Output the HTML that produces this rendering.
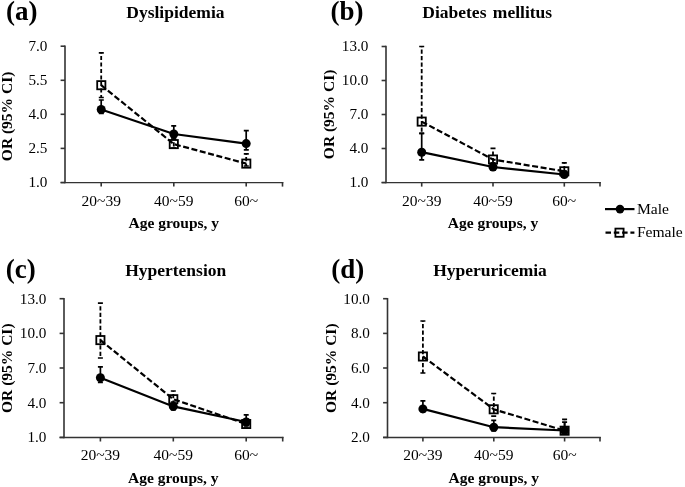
<!DOCTYPE html><html><head><meta charset="utf-8"><style>html,body{margin:0;padding:0;background:#fff;}svg{display:block;filter:grayscale(1)}text{font-family:"Liberation Serif", serif;fill:#000}</style></head><body>
<svg width="685" height="487" viewBox="0 0 685 487">
<rect width="100%" height="100%" fill="#fff"/>
<text x="5.9" y="19.8" font-size="27" font-weight="bold">(a)</text>
<text x="175.4" y="18.0" font-size="17.5" font-weight="bold" text-anchor="middle">Dyslipidemia</text>
<text transform="translate(6.4 116.4) rotate(-90)" font-size="15.5" font-weight="bold" text-anchor="middle" dominant-baseline="central">OR (95% CI)</text>
<g stroke="#333" stroke-width="1.6" fill="none" stroke-linecap="butt">
<path d="M65.0 45.5 V183.3"/>
<path d="M60.6 182.65 H283.3" stroke-width="1.4"/>
<path d="M60.6 182.5 H65.0"/>
<path d="M60.6 148.4 H65.0"/>
<path d="M60.6 114.3 H65.0"/>
<path d="M60.6 80.3 H65.0"/>
<path d="M60.6 46.2 H65.0"/>
<path d="M101.2 182.5 V186.6"/>
<path d="M173.8 182.5 V186.6"/>
<path d="M246.2 182.5 V186.6"/>
<path d="M282.5 182.0 V186.6"/>
</g>
<text x="47.4" y="187.4" font-size="15.2" text-anchor="end">1.0</text>
<text x="47.4" y="153.3" font-size="15.2" text-anchor="end">2.5</text>
<text x="47.4" y="119.2" font-size="15.2" text-anchor="end">4.0</text>
<text x="47.4" y="85.2" font-size="15.2" text-anchor="end">5.5</text>
<text x="47.4" y="51.1" font-size="15.2" text-anchor="end">7.0</text>
<text x="101.2" y="205.5" font-size="15.5" text-anchor="middle">20~39</text>
<text x="173.8" y="205.5" font-size="15.5" text-anchor="middle">40~59</text>
<text x="246.2" y="205.5" font-size="15.5" text-anchor="middle">60~</text>
<text x="173.8" y="227.7" font-size="15.5" font-weight="bold" text-anchor="middle">Age groups, y</text>
<polyline points="101.2,85.2 173.8,144.1 246.2,163.6" fill="none" stroke="#000" stroke-width="2.2" stroke-dasharray="6 2.6"/>
<polyline points="101.2,109.5 173.8,134.0 246.2,143.6" fill="none" stroke="#000" stroke-width="2.2"/>
<path d="M101.2 52.8 V97.5" stroke="#000" stroke-width="1.8" stroke-dasharray="4.2 2.3" stroke-dashoffset="-3.1" fill="none"/>
<path d="M98.8 52.8 h5 M98.8 97.5 h5" stroke="#000" stroke-width="1.7" fill="none"/>
<path d="M101.2 100.0 V113.5 M98.8 100.0 h5 M98.8 113.5 h5" stroke="#000" stroke-width="1.7" fill="none"/>
<path d="M173.8 139.2 V148.0" stroke="#000" stroke-width="1.8" stroke-dasharray="4.2 2.3" stroke-dashoffset="-3.1" fill="none"/>
<path d="M171.2 139.2 h5 M171.2 148.0 h5" stroke="#000" stroke-width="1.7" fill="none"/>
<path d="M173.8 125.9 V139.2 M171.2 125.9 h5 M171.2 139.2 h5" stroke="#000" stroke-width="1.7" fill="none"/>
<path d="M246.2 153.9 V166.0" stroke="#000" stroke-width="1.8" stroke-dasharray="4.2 2.3" stroke-dashoffset="-3.1" fill="none"/>
<path d="M243.8 153.9 h5 M243.8 166.0 h5" stroke="#000" stroke-width="1.7" fill="none"/>
<path d="M246.2 130.6 V149.8 M243.8 130.6 h5 M243.8 149.8 h5" stroke="#000" stroke-width="1.7" fill="none"/>
<circle cx="101.2" cy="109.5" r="4.5" fill="#000"/>
<rect x="97.2" y="81.1" width="8.2" height="8.2" fill="none" stroke="#000" stroke-width="1.8"/>
<circle cx="173.8" cy="134.0" r="4.5" fill="#000"/>
<rect x="169.7" y="140.0" width="8.2" height="8.2" fill="none" stroke="#000" stroke-width="1.8"/>
<circle cx="246.2" cy="143.6" r="4.5" fill="#000"/>
<rect x="242.2" y="159.5" width="8.2" height="8.2" fill="none" stroke="#000" stroke-width="1.8"/>
<text x="330.4" y="19.8" font-size="27" font-weight="bold">(b)</text>
<text x="422.3" y="18.2" font-size="17.5" font-weight="bold" word-spacing="2">Diabetes mellitus</text>
<text transform="translate(328.9 114.4) rotate(-90)" font-size="15.5" font-weight="bold" text-anchor="middle" dominant-baseline="central">OR (95% CI)</text>
<g stroke="#333" stroke-width="1.6" fill="none" stroke-linecap="butt">
<path d="M386.0 45.8 V183.3"/>
<path d="M381.6 182.65 H600.8" stroke-width="1.4"/>
<path d="M381.6 182.5 H386.0"/>
<path d="M381.6 148.5 H386.0"/>
<path d="M381.6 114.5 H386.0"/>
<path d="M381.6 80.5 H386.0"/>
<path d="M381.6 46.5 H386.0"/>
<path d="M421.7 182.5 V186.6"/>
<path d="M493.0 182.5 V186.6"/>
<path d="M564.3 182.5 V186.6"/>
<path d="M600.0 182.0 V186.6"/>
</g>
<text x="368.4" y="187.4" font-size="15.2" text-anchor="end">1.0</text>
<text x="368.4" y="153.4" font-size="15.2" text-anchor="end">4.0</text>
<text x="368.4" y="119.4" font-size="15.2" text-anchor="end">7.0</text>
<text x="368.4" y="85.4" font-size="15.2" text-anchor="end">10.0</text>
<text x="368.4" y="51.4" font-size="15.2" text-anchor="end">13.0</text>
<text x="421.7" y="205.5" font-size="15.5" text-anchor="middle">20~39</text>
<text x="493.0" y="205.5" font-size="15.5" text-anchor="middle">40~59</text>
<text x="564.3" y="205.5" font-size="15.5" text-anchor="middle">60~</text>
<text x="493.0" y="227.7" font-size="15.5" font-weight="bold" text-anchor="middle">Age groups, y</text>
<polyline points="421.7,121.6 493.0,159.5 564.3,171.3" fill="none" stroke="#000" stroke-width="2.2" stroke-dasharray="6 2.6"/>
<polyline points="421.7,152.2 493.0,167.0 564.3,174.5" fill="none" stroke="#000" stroke-width="2.2"/>
<path d="M421.7 46.5 V133.4" stroke="#000" stroke-width="1.8" stroke-dasharray="4.2 2.3" stroke-dashoffset="-3.1" fill="none"/>
<path d="M419.2 46.5 h5 M419.2 133.4 h5" stroke="#000" stroke-width="1.7" fill="none"/>
<path d="M421.7 133.4 V159.8 M419.2 133.4 h5 M419.2 159.8 h5" stroke="#000" stroke-width="1.7" fill="none"/>
<path d="M493.0 148.3 V163.0" stroke="#000" stroke-width="1.8" stroke-dasharray="4.2 2.3" stroke-dashoffset="-3.1" fill="none"/>
<path d="M490.5 148.3 h5 M490.5 163.0 h5" stroke="#000" stroke-width="1.7" fill="none"/>
<path d="M493.0 163.0 V170.0 M490.5 163.0 h5 M490.5 170.0 h5" stroke="#000" stroke-width="1.7" fill="none"/>
<path d="M564.3 162.9 V174.0" stroke="#000" stroke-width="1.8" stroke-dasharray="4.2 2.3" stroke-dashoffset="-3.1" fill="none"/>
<path d="M561.8 162.9 h5 M561.8 174.0 h5" stroke="#000" stroke-width="1.7" fill="none"/>
<path d="M564.3 171.0 V177.0 M561.8 171.0 h5 M561.8 177.0 h5" stroke="#000" stroke-width="1.7" fill="none"/>
<circle cx="421.7" cy="152.2" r="4.5" fill="#000"/>
<rect x="417.6" y="117.5" width="8.2" height="8.2" fill="none" stroke="#000" stroke-width="1.8"/>
<circle cx="493.0" cy="167.0" r="4.5" fill="#000"/>
<rect x="488.9" y="155.4" width="8.2" height="8.2" fill="none" stroke="#000" stroke-width="1.8"/>
<circle cx="564.3" cy="174.5" r="4.5" fill="#000"/>
<rect x="560.2" y="167.2" width="8.2" height="8.2" fill="none" stroke="#000" stroke-width="1.8"/>
<text x="5.8" y="277.5" font-size="27" font-weight="bold">(c)</text>
<text x="175.7" y="275.5" font-size="17.5" font-weight="bold" text-anchor="middle">Hypertension</text>
<text transform="translate(6.3 368.2) rotate(-90)" font-size="15.5" font-weight="bold" text-anchor="middle" dominant-baseline="central">OR (95% CI)</text>
<g stroke="#333" stroke-width="1.6" fill="none" stroke-linecap="butt">
<path d="M64.0 298.0 V438.2"/>
<path d="M59.6 437.55 H283.5" stroke-width="1.4"/>
<path d="M59.6 437.4 H64.0"/>
<path d="M59.6 402.7 H64.0"/>
<path d="M59.6 368.0 H64.0"/>
<path d="M59.6 333.4 H64.0"/>
<path d="M59.6 298.7 H64.0"/>
<path d="M100.4 437.4 V441.5"/>
<path d="M173.3 437.4 V441.5"/>
<path d="M246.2 437.4 V441.5"/>
<path d="M282.7 436.9 V441.5"/>
</g>
<text x="46.4" y="442.3" font-size="15.2" text-anchor="end">1.0</text>
<text x="46.4" y="407.6" font-size="15.2" text-anchor="end">4.0</text>
<text x="46.4" y="372.9" font-size="15.2" text-anchor="end">7.0</text>
<text x="46.4" y="338.3" font-size="15.2" text-anchor="end">10.0</text>
<text x="46.4" y="303.6" font-size="15.2" text-anchor="end">13.0</text>
<text x="100.4" y="460.4" font-size="15.5" text-anchor="middle">20~39</text>
<text x="173.3" y="460.4" font-size="15.5" text-anchor="middle">40~59</text>
<text x="246.2" y="460.4" font-size="15.5" text-anchor="middle">60~</text>
<text x="173.3" y="482.6" font-size="15.5" font-weight="bold" text-anchor="middle">Age groups, y</text>
<polyline points="100.4,340.1 173.3,399.2 246.2,424.0" fill="none" stroke="#000" stroke-width="2.2" stroke-dasharray="6 2.6"/>
<polyline points="100.4,377.8 173.3,406.4 246.2,422.0" fill="none" stroke="#000" stroke-width="2.2"/>
<path d="M100.4 303.1 V358.0" stroke="#000" stroke-width="1.8" stroke-dasharray="4.2 2.3" stroke-dashoffset="-3.1" fill="none"/>
<path d="M97.9 303.1 h5 M97.9 358.0 h5" stroke="#000" stroke-width="1.7" fill="none"/>
<path d="M100.4 366.8 V382.5 M97.9 366.8 h5 M97.9 382.5 h5" stroke="#000" stroke-width="1.7" fill="none"/>
<path d="M173.3 391.0 V404.0" stroke="#000" stroke-width="1.8" stroke-dasharray="4.2 2.3" stroke-dashoffset="-3.1" fill="none"/>
<path d="M170.8 391.0 h5 M170.8 404.0 h5" stroke="#000" stroke-width="1.7" fill="none"/>
<path d="M173.3 402.0 V410.0 M170.8 402.0 h5 M170.8 410.0 h5" stroke="#000" stroke-width="1.7" fill="none"/>
<path d="M246.2 419.0 V428.0" stroke="#000" stroke-width="1.8" stroke-dasharray="4.2 2.3" stroke-dashoffset="-3.1" fill="none"/>
<path d="M243.7 419.0 h5 M243.7 428.0 h5" stroke="#000" stroke-width="1.7" fill="none"/>
<path d="M246.2 414.8 V426.0 M243.7 414.8 h5 M243.7 426.0 h5" stroke="#000" stroke-width="1.7" fill="none"/>
<circle cx="100.4" cy="377.8" r="4.5" fill="#000"/>
<rect x="96.3" y="336.0" width="8.2" height="8.2" fill="none" stroke="#000" stroke-width="1.8"/>
<circle cx="173.3" cy="406.4" r="4.5" fill="#000"/>
<rect x="169.2" y="395.1" width="8.2" height="8.2" fill="none" stroke="#000" stroke-width="1.8"/>
<circle cx="246.2" cy="422.0" r="4.5" fill="#000"/>
<rect x="242.1" y="419.9" width="8.2" height="8.2" fill="none" stroke="#000" stroke-width="1.8"/>
<text x="331.3" y="277.9" font-size="27" font-weight="bold">(d)</text>
<text x="490.0" y="276.3" font-size="17.5" font-weight="bold" text-anchor="middle">Hyperuricemia</text>
<text transform="translate(330.6 368.2) rotate(-90)" font-size="15.5" font-weight="bold" text-anchor="middle" dominant-baseline="central">OR (95% CI)</text>
<g stroke="#333" stroke-width="1.6" fill="none" stroke-linecap="butt">
<path d="M387.5 298.0 V438.2"/>
<path d="M383.1 437.55 H600.8" stroke-width="1.4"/>
<path d="M383.1 437.4 H387.5"/>
<path d="M383.1 402.7 H387.5"/>
<path d="M383.1 368.0 H387.5"/>
<path d="M383.1 333.4 H387.5"/>
<path d="M383.1 298.7 H387.5"/>
<path d="M422.9 437.4 V441.5"/>
<path d="M493.8 437.4 V441.5"/>
<path d="M564.6 437.4 V441.5"/>
<path d="M600.0 436.9 V441.5"/>
</g>
<text x="369.9" y="442.3" font-size="15.2" text-anchor="end">2.0</text>
<text x="369.9" y="407.6" font-size="15.2" text-anchor="end">4.0</text>
<text x="369.9" y="372.9" font-size="15.2" text-anchor="end">6.0</text>
<text x="369.9" y="338.3" font-size="15.2" text-anchor="end">8.0</text>
<text x="369.9" y="303.6" font-size="15.2" text-anchor="end">10.0</text>
<text x="422.9" y="460.4" font-size="15.5" text-anchor="middle">20~39</text>
<text x="493.8" y="460.4" font-size="15.5" text-anchor="middle">40~59</text>
<text x="564.6" y="460.4" font-size="15.5" text-anchor="middle">60~</text>
<text x="493.8" y="482.6" font-size="15.5" font-weight="bold" text-anchor="middle">Age groups, y</text>
<polyline points="422.9,356.5 493.8,409.3 564.6,430.7" fill="none" stroke="#000" stroke-width="2.2" stroke-dasharray="6 2.6"/>
<polyline points="422.9,408.9 493.8,427.2 564.6,430.5" fill="none" stroke="#000" stroke-width="2.2"/>
<path d="M422.9 321.0 V373.0" stroke="#000" stroke-width="1.8" stroke-dasharray="4.2 2.3" stroke-dashoffset="-3.1" fill="none"/>
<path d="M420.4 321.0 h5 M420.4 373.0 h5" stroke="#000" stroke-width="1.7" fill="none"/>
<path d="M422.9 400.8 V412.0 M420.4 400.8 h5 M420.4 412.0 h5" stroke="#000" stroke-width="1.7" fill="none"/>
<path d="M493.8 393.5 V416.1" stroke="#000" stroke-width="1.8" stroke-dasharray="4.2 2.3" stroke-dashoffset="-3.1" fill="none"/>
<path d="M491.2 393.5 h5 M491.2 416.1 h5" stroke="#000" stroke-width="1.7" fill="none"/>
<path d="M493.8 420.4 V431.0 M491.2 420.4 h5 M491.2 431.0 h5" stroke="#000" stroke-width="1.7" fill="none"/>
<path d="M564.6 419.4 V434.0" stroke="#000" stroke-width="1.8" stroke-dasharray="4.2 2.3" stroke-dashoffset="-3.1" fill="none"/>
<path d="M562.1 419.4 h5 M562.1 434.0 h5" stroke="#000" stroke-width="1.7" fill="none"/>
<path d="M564.6 422.2 V433.0 M562.1 422.2 h5 M562.1 433.0 h5" stroke="#000" stroke-width="1.7" fill="none"/>
<circle cx="422.9" cy="408.9" r="4.5" fill="#000"/>
<rect x="418.8" y="352.4" width="8.2" height="8.2" fill="none" stroke="#000" stroke-width="1.8"/>
<circle cx="493.8" cy="427.2" r="4.5" fill="#000"/>
<rect x="489.6" y="405.2" width="8.2" height="8.2" fill="none" stroke="#000" stroke-width="1.8"/>
<circle cx="564.6" cy="430.5" r="4.5" fill="#000"/>
<rect x="560.5" y="426.6" width="8.2" height="8.2" fill="none" stroke="#000" stroke-width="1.8"/>
<path d="M605 209.1 H634.5" stroke="#000" stroke-width="2.2"/>
<circle cx="620" cy="209.1" r="4.3" fill="#000"/>
<text x="636.9" y="213.9" font-size="15.6">Male</text>
<path d="M605.5 232.7 H634.4" stroke="#000" stroke-width="2.2" stroke-dasharray="5.5 2.8"/>
<rect x="615.4" y="228.6" width="8.2" height="8.2" fill="none" stroke="#000" stroke-width="1.8"/>
<text x="636.9" y="237.3" font-size="15.6">Female</text>
</svg></body></html>
